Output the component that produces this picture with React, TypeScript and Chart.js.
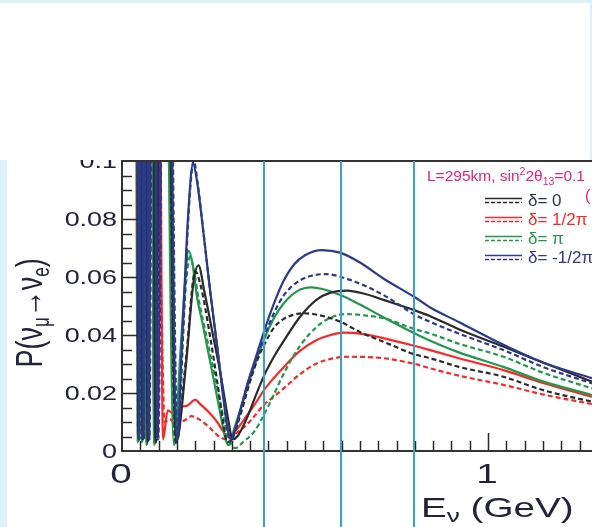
import React, { useEffect, useRef } from 'react';
import { Chart, registerables } from 'chart.js';

Chart.register(...registerables);

// ---------- axes ----------
const xMin = 0;
const xMax = 1.284;
const yMin = 0;
const yMax = 0.1;
const yTickStep = 0.02;
const xTickStep = 1;
const yMinorStep = 0.005;
const xMinorStep = 0.05;

// vertical marker lines (GeV)
const markerEnergies = [0.388, 0.598, 0.798];

// ---------- legend ----------
const legendLabels = ['δ= 0', 'δ= 1/2π', 'δ= π', 'δ= -1/2π'];

// ---------- data: [E (GeV), P] ----------
const deltaZeroSolid: [number, number][] = [
  [0.039, 0.3], [0.045, 0.004], [0.05, 0.3], [0.056, 0.004], [0.062, 0.3], [0.07, 0.003],
  [0.079, 0.3], [0.092, 0.003], [0.11, 0.3], [0.148, 0.003], [0.175, 0.03], [0.195, 0.058],
  [0.209, 0.064], [0.225, 0.055], [0.25, 0.039], [0.27, 0.026], [0.29, 0.011], [0.302, 0.004],
  [0.315, 0.005], [0.34, 0.011], [0.365, 0.019], [0.39, 0.0265], [0.415, 0.0325],
  [0.441, 0.0378], [0.486, 0.0462], [0.532, 0.0522], [0.57, 0.0546], [0.614, 0.0553],
  [0.66, 0.0543], [0.714, 0.0521], [0.8, 0.0485], [0.842, 0.0465], [0.92, 0.042],
  [1.042, 0.036], [1.15, 0.0305], [1.284, 0.0239],
];
const deltaZeroDashed: [number, number][] = [
  [0.04, 0.3], [0.046, 0.004], [0.051, 0.3], [0.057, 0.004], [0.063, 0.3], [0.071, 0.003],
  [0.08, 0.3], [0.093, 0.003], [0.112, 0.3], [0.147, 0.003], [0.175, 0.032], [0.2, 0.062],
  [0.215, 0.057], [0.24, 0.04], [0.26, 0.024], [0.275, 0.011], [0.288, 0.003], [0.3, 0.004],
  [0.32, 0.011], [0.35, 0.024], [0.37, 0.0315], [0.39, 0.037], [0.415, 0.0425],
  [0.441, 0.0455], [0.47, 0.047], [0.495, 0.0475], [0.54, 0.0468], [0.596, 0.0446],
  [0.65, 0.041], [0.714, 0.0377], [0.8, 0.0333], [0.842, 0.032], [0.92, 0.029],
  [1.042, 0.0256], [1.15, 0.021], [1.284, 0.017],
];
const deltaHalfPiSolid: [number, number][] = [
  [0.036, 0.3], [0.041, 0.042], [0.044, 0.036], [0.048, 0.3], [0.055, 0.004], [0.06, 0.3],
  [0.067, 0.003], [0.074, 0.3], [0.089, 0.004], [0.1, 0.2], [0.112, 0.004], [0.125, 0.014],
  [0.14, 0.013], [0.16, 0.015], [0.18, 0.0158], [0.2, 0.0176], [0.215, 0.016], [0.24, 0.013],
  [0.26, 0.01], [0.275, 0.007], [0.29, 0.005], [0.31, 0.007], [0.34, 0.012], [0.365, 0.0165],
  [0.388, 0.021], [0.415, 0.0252], [0.441, 0.0288], [0.486, 0.0345], [0.532, 0.0383],
  [0.57, 0.04], [0.605, 0.0408], [0.66, 0.0403], [0.714, 0.0389], [0.8, 0.0362],
  [0.842, 0.0348], [0.92, 0.032], [1.042, 0.0279], [1.15, 0.0235], [1.284, 0.0187],
];
const deltaHalfPiDashed: [number, number][] = [
  [0.04, 0.3], [0.046, 0.005], [0.051, 0.3], [0.058, 0.006], [0.064, 0.25], [0.071, 0.005],
  [0.08, 0.15], [0.093, 0.006], [0.105, 0.06], [0.116, 0.01], [0.13, 0.011], [0.15, 0.009],
  [0.17, 0.0105], [0.19, 0.012], [0.21, 0.011], [0.24, 0.008], [0.265, 0.005], [0.285, 0.004],
  [0.31, 0.006], [0.34, 0.009], [0.365, 0.0125], [0.388, 0.016], [0.415, 0.0188],
  [0.441, 0.0215], [0.486, 0.0265], [0.532, 0.0302], [0.58, 0.032], [0.623, 0.0325],
  [0.714, 0.032], [0.8, 0.03], [0.842, 0.0285], [0.92, 0.026], [1.042, 0.0228],
  [1.15, 0.0195], [1.284, 0.0162],
];
const deltaPiSolid: [number, number][] = [
  [0.038, 0.3], [0.043, 0.003], [0.048, 0.3], [0.054, 0.003], [0.06, 0.3], [0.067, 0.002],
  [0.076, 0.3], [0.088, 0.002], [0.106, 0.3], [0.142, 0.002], [0.16, 0.035], [0.172, 0.058],
  [0.182, 0.069], [0.192, 0.065], [0.205, 0.053], [0.22, 0.044], [0.25, 0.025], [0.27, 0.012],
  [0.283, 0.004], [0.292, 0.002], [0.305, 0.007], [0.34, 0.021], [0.365, 0.0305],
  [0.388, 0.0385], [0.415, 0.0458], [0.441, 0.0508], [0.48, 0.0552], [0.518, 0.0564],
  [0.596, 0.0538], [0.65, 0.0505], [0.714, 0.0461], [0.8, 0.0405], [0.842, 0.038],
  [0.92, 0.034], [1.042, 0.029], [1.15, 0.024], [1.284, 0.0193],
];
const deltaPiDashed: [number, number][] = [
  [0.039, 0.3], [0.044, 0.003], [0.049, 0.3], [0.055, 0.003], [0.061, 0.3], [0.068, 0.002],
  [0.077, 0.3], [0.09, 0.002], [0.108, 0.3], [0.144, 0.002], [0.162, 0.035], [0.175, 0.058],
  [0.186, 0.067], [0.197, 0.062], [0.21, 0.052], [0.23, 0.04], [0.26, 0.022], [0.28, 0.01],
  [0.295, 0.003], [0.31, 0.001], [0.33, 0.003], [0.36, 0.0065], [0.388, 0.0125],
  [0.415, 0.0195], [0.441, 0.0265], [0.486, 0.0362], [0.532, 0.0428], [0.57, 0.046],
  [0.614, 0.0472], [0.66, 0.0468], [0.714, 0.0458], [0.8, 0.042], [0.842, 0.0405],
  [0.92, 0.037], [1.042, 0.0325], [1.15, 0.027], [1.284, 0.0216],
];
const deltaMinusHalfPiSolid: [number, number][] = [
  [0.041, 0.3], [0.047, 0.004], [0.053, 0.3], [0.059, 0.004], [0.066, 0.3], [0.073, 0.004],
  [0.084, 0.3], [0.097, 0.004], [0.117, 0.3], [0.15, 0.004], [0.165, 0.04], [0.18, 0.08],
  [0.194, 0.099], [0.205, 0.093], [0.22, 0.078], [0.24, 0.056], [0.26, 0.036], [0.275, 0.02],
  [0.288, 0.008], [0.297, 0.004], [0.31, 0.008], [0.34, 0.022], [0.365, 0.032],
  [0.388, 0.0412], [0.415, 0.0508], [0.441, 0.0585], [0.47, 0.0643], [0.5, 0.0675],
  [0.546, 0.0693], [0.596, 0.0684], [0.65, 0.065], [0.714, 0.0595], [0.8, 0.053],
  [0.842, 0.0495], [0.92, 0.0445], [1.042, 0.0366], [1.15, 0.0305], [1.284, 0.0251],
];
const deltaMinusHalfPiDashed: [number, number][] = [
  [0.042, 0.3], [0.048, 0.004], [0.054, 0.3], [0.06, 0.004], [0.067, 0.3], [0.075, 0.004],
  [0.086, 0.3], [0.099, 0.004], [0.119, 0.3], [0.152, 0.004], [0.167, 0.04], [0.182, 0.082],
  [0.196, 0.1], [0.207, 0.092], [0.222, 0.076], [0.242, 0.054], [0.262, 0.034], [0.278, 0.018],
  [0.29, 0.006], [0.299, 0.004], [0.315, 0.01], [0.345, 0.024], [0.37, 0.033], [0.392, 0.0405],
  [0.415, 0.0475], [0.441, 0.0535], [0.486, 0.0588], [0.555, 0.061], [0.623, 0.059],
  [0.714, 0.0538], [0.8, 0.047], [0.842, 0.0445], [0.92, 0.0405], [1.042, 0.0348],
  [1.15, 0.029], [1.284, 0.0233],
];

// ---------- styles ----------
const BLACK = '#2b2b2b';
const RED = '#ff2626';
const GREEN = '#1f9a4c';
const NAVY = '#2c3990';
const PINK = '#ee1c74';
const AXIS_TEXT = '#22223a';
const CYAN = '#33a5c7';
const PALE = '#dcf2f8';
const FAMILY = '"Liberation Sans", Arial, Helvetica, sans-serif';
const STRETCH = 1.38;

const legendColors = [BLACK, RED, GREEN, NAVY];
const legendTextColors = ['#2b3350', RED, GREEN, NAVY];

const seriesDefs = [
  { data: deltaMinusHalfPiSolid, color: NAVY, dashed: false, order: 0 },
  { data: deltaMinusHalfPiDashed, color: NAVY, dashed: true, order: 1 },
  { data: deltaZeroSolid, color: BLACK, dashed: false, order: 2 },
  { data: deltaZeroDashed, color: BLACK, dashed: true, order: 3 },
  { data: deltaPiSolid, color: GREEN, dashed: false, order: 4 },
  { data: deltaPiDashed, color: GREEN, dashed: true, order: 5 },
  { data: deltaHalfPiSolid, color: RED, dashed: false, order: 6 },
  { data: deltaHalfPiDashed, color: RED, dashed: true, order: 7 },
];

const fmtY = (v: number) => String(+Number(v).toFixed(2));

type Piece = { t: string; size: number; dy: number };

function piecesWidth(ctx: CanvasRenderingContext2D, pieces: Piece[]) {
  let w = 0;
  for (const p of pieces) {
    ctx.font = `${p.size}px ${FAMILY}`;
    w += ctx.measureText(p.t).width;
  }
  return w;
}
function drawPieces(ctx: CanvasRenderingContext2D, pieces: Piece[], x0: number) {
  let x = x0;
  for (const p of pieces) {
    ctx.font = `${p.size}px ${FAMILY}`;
    ctx.fillText(p.t, x, p.dy);
    x += ctx.measureText(p.t).width;
  }
}
function stretchedText(
  ctx: CanvasRenderingContext2D, text: string, x: number, y: number, size: number,
  align: CanvasTextAlign, stretch: number, color: string,
) {
  ctx.save();
  ctx.translate(x, y);
  ctx.scale(stretch, 1);
  ctx.font = `${size}px ${FAMILY}`;
  ctx.fillStyle = color;
  ctx.textAlign = align;
  ctx.textBaseline = 'alphabetic';
  ctx.fillText(text, 0, 0);
  ctx.restore();
}

const decorPlugin = {
  id: 'decor',
  beforeDraw(chart: any) {
    const ctx: CanvasRenderingContext2D = chart.ctx;
    ctx.save();
    ctx.fillStyle = '#ffffff';
    ctx.fillRect(0, 0, chart.width, chart.height);
    ctx.restore();
  },
  afterDatasetsDraw(chart: any) {
    const ctx: CanvasRenderingContext2D = chart.ctx;
    const { left, right, top, bottom } = chart.chartArea;
    const xs = chart.scales.x;
    const ys = chart.scales.y;
    ctx.save();
    ctx.strokeStyle = '#2a2a2a';
    ctx.lineWidth = 1.5;
    ctx.beginPath();
    const nY = Math.round((yMax - yMin) / yMinorStep);
    for (let i = 1; i < nY; i++) {
      const py = Math.round(ys.getPixelForValue(yMin + i * yMinorStep)) + 0.5;
      const len = i % 4 === 0 ? 15 : 10;
      ctx.moveTo(left, py);
      ctx.lineTo(left + len, py);
    }
    for (let i = 1; xMin + i * xMinorStep < xMax; i++) {
      const px = Math.round(xs.getPixelForValue(xMin + i * xMinorStep)) + 0.5;
      const len = i % 20 === 0 ? 18 : 10;
      ctx.moveTo(px, bottom);
      ctx.lineTo(px, bottom - len);
    }
    ctx.stroke();
    // frame
    ctx.strokeStyle = '#333333';
    ctx.lineWidth = 2;
    ctx.beginPath();
    ctx.moveTo(right, top);
    ctx.lineTo(left, top);
    ctx.lineTo(left, bottom);
    ctx.lineTo(right, bottom);
    ctx.stroke();
    ctx.restore();
  },
  afterDraw(chart: any) {
    const ctx: CanvasRenderingContext2D = chart.ctx;
    const { left, top, bottom } = chart.chartArea;
    const xs = chart.scales.x;
    const ys = chart.scales.y;
    const W = chart.width;
    const H = chart.height;

    // tick labels
    for (const t of ys.ticks) {
      const py = ys.getPixelForValue(t.value);
      stretchedText(ctx, fmtY(t.value), left - 5, py + 7, 19.5, 'right', STRETCH, AXIS_TEXT);
    }
    for (const t of xs.ticks) {
      const px = xs.getPixelForValue(t.value);
      stretchedText(ctx, String(t.value), px - 1, bottom + 32, 28, 'center', STRETCH, AXIS_TEXT);
    }

    // white cover over the top of the figure, with pale border strips
    ctx.save();
    ctx.fillStyle = '#ffffff';
    ctx.fillRect(0, 0, W, top - 1);
    ctx.fillStyle = PALE;
    ctx.fillRect(0, 0, W, 3);
    ctx.fillRect(0, top - 1, 7, H - top + 1);
    ctx.fillRect(W - 2, 3, 2, top - 4);
    ctx.restore();

    // cyan marker lines
    ctx.save();
    ctx.strokeStyle = CYAN;
    ctx.lineWidth = 2;
    ctx.beginPath();
    for (const e of markerEnergies) {
      const px = Math.round(xs.getPixelForValue(e));
      ctx.moveTo(px, top);
      ctx.lineTo(px, H);
    }
    ctx.stroke();
    ctx.restore();

    // legend title
    ctx.save();
    ctx.fillStyle = PINK;
    ctx.textBaseline = 'alphabetic';
    ctx.textAlign = 'left';
    ctx.translate(427, 181);
    drawPieces(ctx, [
      { t: 'L=295km, sin', size: 15.5, dy: 0 },
      { t: '2', size: 10.5, dy: -6 },
      { t: '2θ', size: 15.5, dy: 0 },
      { t: '13', size: 10.5, dy: 4 },
      { t: '=0.1', size: 15.5, dy: 0 },
    ], 0);
    ctx.restore();
    // stray glyph at the right edge
    ctx.save();
    ctx.fillStyle = PINK;
    ctx.font = `16px ${FAMILY}`;
    ctx.fillText('(', 585, 201);
    ctx.restore();

    // legend entries
    ctx.save();
    for (let i = 0; i < legendLabels.length; i++) {
      const cy = 200.5 + i * 19;
      ctx.strokeStyle = legendColors[i];
      ctx.lineWidth = 1.5;
      ctx.setLineDash([]);
      ctx.beginPath();
      ctx.moveTo(485, cy - 2);
      ctx.lineTo(522, cy - 2);
      ctx.stroke();
      ctx.setLineDash([4, 2]);
      ctx.beginPath();
      ctx.moveTo(485, cy + 2);
      ctx.lineTo(522, cy + 2);
      ctx.stroke();
      ctx.setLineDash([]);
      ctx.fillStyle = legendTextColors[i];
      ctx.font = `17px ${FAMILY}`;
      ctx.textAlign = 'left';
      ctx.textBaseline = 'alphabetic';
      ctx.fillText(legendLabels[i], 528, cy + 5);
    }
    ctx.restore();

    // x title
    ctx.save();
    ctx.fillStyle = AXIS_TEXT;
    ctx.textBaseline = 'alphabetic';
    ctx.textAlign = 'left';
    ctx.translate(421, 517);
    ctx.scale(STRETCH, 1);
    drawPieces(ctx, [
      { t: 'E', size: 28, dy: 0 },
      { t: 'ν', size: 19, dy: 5 },
      { t: ' (GeV)', size: 28, dy: 0 },
    ], 0);
    ctx.restore();

    // y title (rotated)
    const yPieces: Piece[] = [
      { t: 'P(', size: 27, dy: 0 },
      { t: 'ν', size: 27, dy: 0 },
      { t: 'μ', size: 17, dy: 5 },
      { t: '→', size: 27, dy: 0 },
      { t: 'ν', size: 27, dy: 0 },
      { t: 'e', size: 17, dy: 5 },
      { t: ')', size: 27, dy: 0 },
    ];
    ctx.save();
    ctx.fillStyle = AXIS_TEXT;
    ctx.textBaseline = 'alphabetic';
    ctx.textAlign = 'left';
    const yw = piecesWidth(ctx, yPieces);
    ctx.translate(42, (ys.getPixelForValue(0.05) + 7));
    ctx.rotate(-Math.PI / 2);
    ctx.scale(1, STRETCH);
    drawPieces(ctx, yPieces, -yw / 2);
    ctx.restore();
  },
};

export default function App() {
  const ref = useRef<HTMLCanvasElement | null>(null);
  useEffect(() => {
    if (!ref.current) return;
    const chart = new Chart(ref.current, {
      type: 'line',
      data: {
        datasets: seriesDefs.map((s) => ({
          data: s.data.map(([x, y]) => ({ x, y })),
          borderColor: s.color,
          backgroundColor: s.color,
          borderWidth: 2.2,
          borderDash: s.dashed ? [5, 3] : [],
          pointRadius: 0,
          fill: false,
          cubicInterpolationMode: 'monotone' as const,
          order: s.order,
          clip: 0,
        })),
      },
      options: {
        animation: false,
        responsive: false,
        maintainAspectRatio: false,
        devicePixelRatio: 1,
        layout: { padding: { top: 161, left: 0, right: 0, bottom: 0 } },
        plugins: { legend: { display: false }, tooltip: { enabled: false } },
        scales: {
          x: {
            type: 'linear',
            min: xMin,
            max: xMax,
            grid: { display: false, drawTicks: false },
            border: { display: false },
            ticks: { display: false, stepSize: xTickStep, includeBounds: false, autoSkip: false },
            afterFit: (s: any) => { s.height = 76; },
          },
          y: {
            type: 'linear',
            min: yMin,
            max: yMax,
            grid: { display: false, drawTicks: false },
            border: { display: false },
            ticks: { display: false, stepSize: yTickStep, autoSkip: false },
            afterFit: (s: any) => { s.width = 122; },
          },
        },
      } as any,
      plugins: [decorPlugin],
    });
    return () => chart.destroy();
  }, []);
  return (
    <div style={{ position: 'fixed', left: 0, top: 0, width: 592, height: 527, background: '#fff' }}>
      <canvas ref={ref} width={592} height={527} style={{ display: 'block' }} />
    </div>
  );
}
